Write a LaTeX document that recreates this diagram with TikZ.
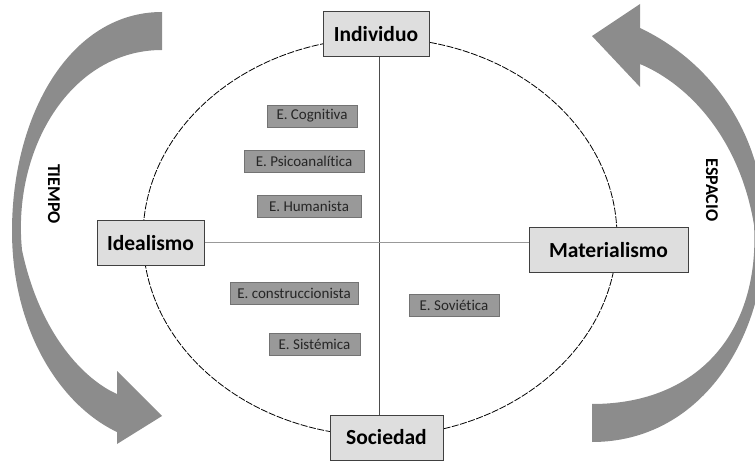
\documentclass[tikz,border=0pt]{standalone}
\usepackage{fontspec}
\setmainfont{Carlito}[Ligatures=NoCommon]
\usetikzlibrary{positioning}

\tikzset{
  pole/.style={draw=black!75, fill=black!13, line width=1pt, inner sep=0pt,
    minimum height=45pt, font=\fontsize{21.5}{24}\selectfont\bfseries},
  school/.style={draw=black!55, fill=black!40, line width=0.8pt, inner sep=0pt,
    minimum height=22pt, text=black!85, font=\fontsize{15}{17}\selectfont},
  turn/.style={fill=black!45, draw=none},
  turnlabel/.style={rotate=-90, font=\fontsize{18}{20}\selectfont\bfseries}
}

\begin{document}
\begin{tikzpicture}[x=1pt, y=-1pt]

  \useasboundingbox (0,0) rectangle (755,462);

  %% The two curved arrows.
  \fill[turn] (162,12) .. controls (70,12) and (12,115) .. (12,231)
  .. controls (12,330) and (60,405) .. (117,432)
  -- (117,444) -- (162,416) -- (117,371) -- (117,394)
  .. controls (85,380) and (40,335) .. (22,250)
  .. controls (12,150) and (70,50) .. (162,50) -- cycle;
  \fill[turn] (592,442) .. controls (700,442) and (765,340) .. (765,231)
  .. controls (765,135) and (712,62) .. (640,28)
  -- (640,4) -- (592,36) -- (640,87) -- (640,64)
  .. controls (690,85) and (740,140) .. (754,225)
  .. controls (760,330) and (700,404) .. (592,404) -- cycle;
  \node[turnlabel] (tiempo) at (54,194) {TIEMPO};
  \node[turnlabel] (espacio) at (712,190) {ESPACIO};

  %% The dashed ellipse.
  \draw[dash pattern=on 7pt off 1.5pt, line width=0.8pt]
  (380,237) ellipse [x radius=237, y radius=199];

  %% The four poles.
  \node[pole, minimum width=106pt] (ind) at (376,34) {Individuo};
  \node[pole, minimum width=107pt] (ideal) at (150.5,243) {Idealismo};
  \node[pole, minimum width=159pt] (mat) at (608.5,250) {Materialismo};
  \node[pole, minimum width=113pt] (soc) at (386.5,437.5) {Sociedad};

  %% The axes between the poles.
  \coordinate (vx) at (379,243);
  \draw[black!70, line width=1pt] (ind.south -| vx) -- (soc.north -| vx);
  \draw[black!40, line width=1pt] (ideal.east) -- (mat.west |- ideal.east);

  %% The schools.
  \node[school, minimum width=90pt] (cogn) at (312,116) {E. Cognitiva};
  \node[school, minimum width=120pt] (psico) at (304,161) {E. Psicoanalítica};
  \node[school, minimum width=104pt] (human) at (309,206) {E. Humanista};
  \node[school, minimum width=128pt] (constr) at (294,293) {E. construccionista};
  \node[school, minimum width=91pt] (sist) at (314.5,344) {E. Sistémica};
  \node[school, minimum width=90pt] (sov) at (454,305) {E. Soviética};

\end{tikzpicture}
\end{document}
